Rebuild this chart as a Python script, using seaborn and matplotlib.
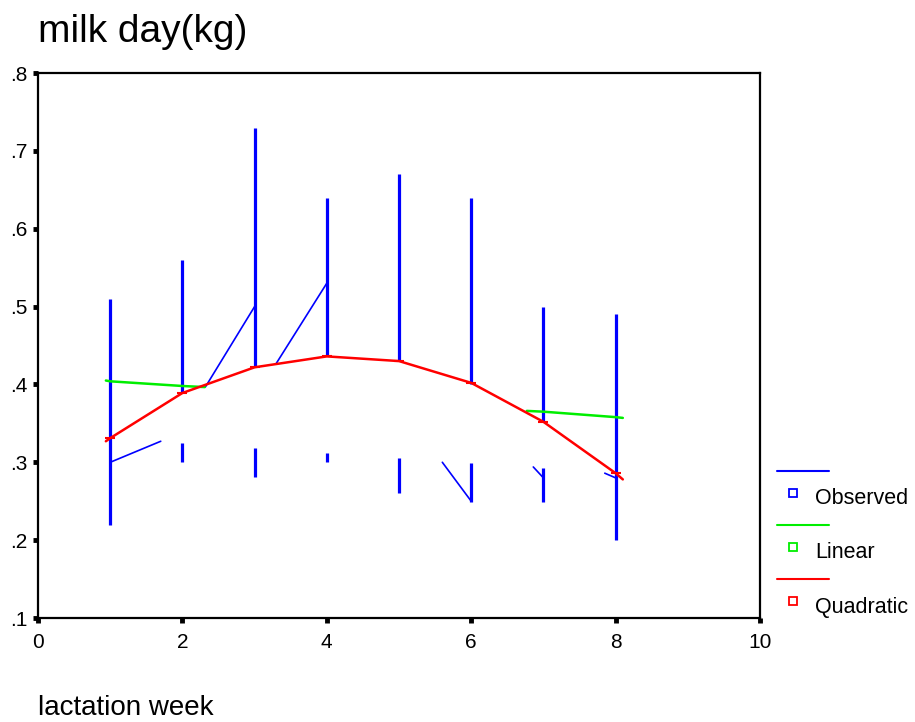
import numpy as np
import pandas as pd
import matplotlib
matplotlib.use("Agg")
import matplotlib.pyplot as plt
from matplotlib.lines import Line2D
import seaborn as sns

# ---- data ----
weeks = [1, 2, 3, 4, 5, 6, 7, 8]
# observed: upper visible segment (low, high) and lower visible segment (low, high)
obs_upper_low = [0.22, 0.389, 0.422, 0.437, 0.430, 0.401, 0.352, 0.20]
obs_upper_high = [0.51, 0.56, 0.73, 0.64, 0.67, 0.64, 0.50, 0.49]
obs_lower_low = [0.22, 0.30, 0.281, 0.300, 0.260, 0.249, 0.249, 0.20]
obs_lower_high = [0.22, 0.325, 0.318, 0.312, 0.305, 0.299, 0.293, 0.20]
# thin connecting pieces of the observed line (x0, y0, x1, y1)
obs_link_x0 = [1.0, 2.32, 3.30, 5.60, 6.86, 7.85]
obs_link_y0 = [0.300, 0.397, 0.427, 0.300, 0.294, 0.286]
obs_link_x1 = [1.70, 3.0, 4.0, 6.0, 7.0, 8.0]
obs_link_y1 = [0.327, 0.500, 0.530, 0.250, 0.280, 0.280]

# linear fit (visible parts)
lin_left_x = [0.94, 1, 2, 2.31]
lin_left_y = [0.405, 0.404, 0.398, 0.3966]
lin_right_x = [6.77, 7, 8, 8.1]
lin_right_y = [0.366, 0.365, 0.358, 0.357]

# quadratic fit
quad_x = [0.94, 1, 2, 3, 4, 5, 6, 7, 8, 8.1]
quad_y = [0.327, 0.331, 0.389, 0.422, 0.436, 0.430, 0.402, 0.352, 0.286, 0.278]

x_ticks = [0, 2, 4, 6, 8, 10]
y_ticks = [0.1, 0.2, 0.3, 0.4, 0.5, 0.6, 0.7, 0.8]
y_tick_labels = [".1", ".2", ".3", ".4", ".5", ".6", ".7", ".8"]

BLUE = "#0000ff"
GREEN = "#00ee00"
RED = "#ff0000"

sns.set_style("white")
plt.rcParams["font.family"] = ["Liberation Sans", "DejaVu Sans"]
plt.rcParams["text.color"] = "black"

W, H = 915, 722
fig = plt.figure(figsize=(W / 100, H / 100), dpi=100)
ax = fig.add_axes([38 / W, 1 - 618 / H, (760 - 38) / W, (618 - 73) / H])

# observed ranges
for i, w in enumerate(weeks):
    ax.vlines(w, obs_upper_low[i], obs_upper_high[i], color=BLUE, lw=2.3, zorder=3)
    if obs_lower_high[i] > obs_lower_low[i]:
        ax.vlines(w, obs_lower_low[i], obs_lower_high[i], color=BLUE, lw=2.3, zorder=3)
for x0, y0, x1, y1 in zip(obs_link_x0, obs_link_y0, obs_link_x1, obs_link_y1):
    ax.plot([x0, x1], [y0, y1], color=BLUE, lw=1.2, zorder=3)

# fitted lines
df_ll = pd.DataFrame({"x": lin_left_x, "y": lin_left_y})
df_lr = pd.DataFrame({"x": lin_right_x, "y": lin_right_y})
df_q = pd.DataFrame({"x": quad_x, "y": quad_y})
sns.lineplot(data=df_ll, x="x", y="y", ax=ax, color=GREEN, lw=1.8, sort=False, estimator=None, zorder=4)
sns.lineplot(data=df_lr, x="x", y="y", ax=ax, color=GREEN, lw=1.8, sort=False, estimator=None, zorder=4)
sns.lineplot(data=df_q, x="x", y="y", ax=ax, color=RED, lw=1.8, sort=False, estimator=None, zorder=5)
# small tick marks on quadratic at each week
ax.scatter(weeks, quad_y[1:9], marker="_", s=60, color=RED, linewidths=1.5, zorder=5)

ax.set_xlim(0, 10)
ax.set_ylim(0.1, 0.8)
ax.set_xticks(x_ticks)
ax.set_xticklabels([str(t) for t in x_ticks])
ax.set_yticks(y_ticks)
ax.set_yticklabels(y_tick_labels)
ax.set_xlabel("")
ax.set_ylabel("")
ax.tick_params(axis="both", which="major", direction="out", length=3.5, width=3.5,
               color="black", labelsize=15, labelcolor="black",
               bottom=True, left=True, top=False, right=False)
ax.tick_params(axis="x", pad=7)
ax.tick_params(axis="y", pad=4)
for sp in ax.spines.values():
    sp.set_visible(True)
    sp.set_color("black")
    sp.set_linewidth(1.6)

fig.text(38 / W, 1 - 32 / H, "milk day(kg)", fontsize=28, ha="left", va="center", color="black")
fig.text(38 / W, 1 - 708 / H, "lactation week", fontsize=20, ha="left", va="center", color="black")

# legend drawn manually
legend_items = [("Observed", BLUE, 471), ("Linear", GREEN, 525), ("Quadratic", RED, 579)]
for label, col, ly in legend_items:
    fig.add_artist(Line2D([777 / W, 829 / W], [1 - ly / H, 1 - ly / H], color=col, lw=1.5,
                          transform=fig.transFigure))
    fig.add_artist(Line2D([793 / W], [1 - (ly + 22) / H], marker="s", markersize=5.5,
                          markerfacecolor="white", markeredgecolor=col, markeredgewidth=1.3,
                          linestyle="none", transform=fig.transFigure))
    fig.text(815 / W, 1 - (ly + 28) / H, label, fontsize=15.5, ha="left", va="center", color="black")

fig.savefig("out.png", dpi=100)
